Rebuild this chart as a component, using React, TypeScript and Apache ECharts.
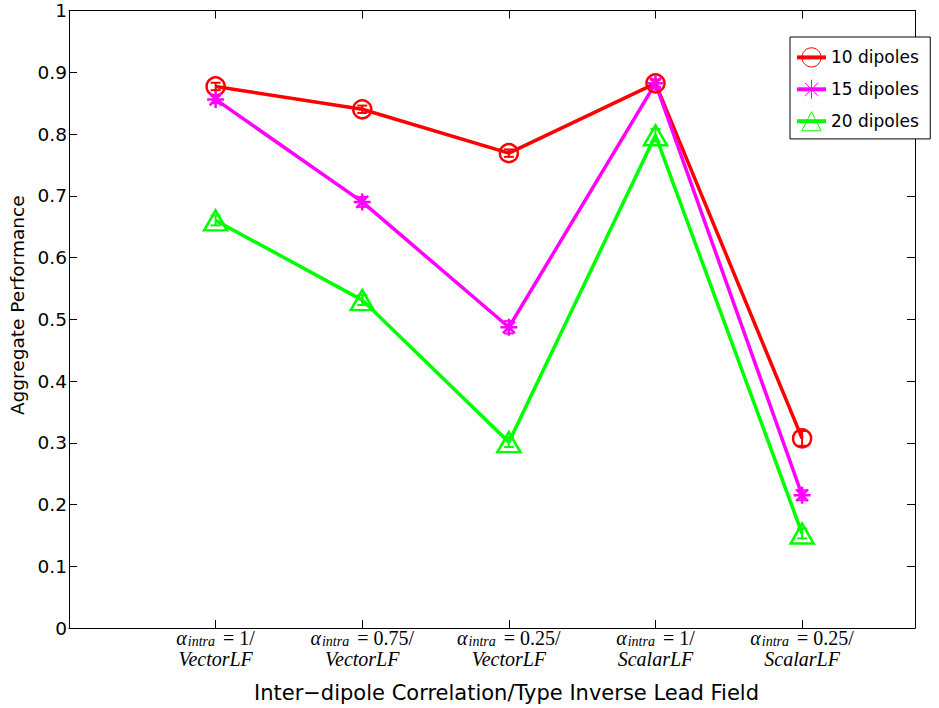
import React, { useEffect, useRef } from "react";
import * as echarts from "echarts";

// Condition labels along the x axis: α_intra value and lead-field type
const alphaIntra = ["1", "0.75", "0.25", "1", "0.25"];
const leadFieldType = ["VectorLF", "VectorLF", "VectorLF", "ScalarLF", "ScalarLF"];

const seriesNames = ["10 dipoles", "15 dipoles", "20 dipoles"];
const seriesColors = ["#ff0000", "#ff00ff", "#00ff00"];

// Aggregate performance per condition
const perf10 = [0.877, 0.84, 0.769, 0.882, 0.307];
const perf15 = [0.856, 0.69, 0.487, 0.882, 0.215];
const perf20 = [0.66, 0.531, 0.301, 0.798, 0.153];

// Half-widths of the error bars
const err10 = [0.006, 0.006, 0.006, 0.006, 0.012];
const err15 = [0.006, 0.008, 0.01, 0.006, 0.008];
const err20 = [0.008, 0.008, 0.008, 0.01, 0.008];

const yTicks = [0, 0.1, 0.2, 0.3, 0.4, 0.5, 0.6, 0.7, 0.8, 0.9, 1];

const ASTERISK = "path://M0,-10L0,10M-10,0L10,0M-7,-7L7,7M-7,7L7,-7";

export default function App() {
  const ref = useRef<HTMLDivElement>(null);

  useEffect(() => {
    if (!ref.current) return;
    const chart = echarts.init(ref.current, undefined, { renderer: "svg" });

    const perf = [perf10, perf15, perf20];
    const errs = [err10, err15, err20];
    const symbols = ["circle", ASTERISK, "triangle"];
    const symbolSizes: any[] = [18, 17, [23, 20]];

    const lineSeries = seriesNames.map((name, s) => ({
      name,
      type: "line",
      data: perf[s].map((v, i) => [i + 1, v]),
      symbol: symbols[s],
      symbolSize: symbolSizes[s],
      showAllSymbol: true,
      lineStyle: { color: seriesColors[s], width: 3.5 },
      itemStyle: {
        color: "rgba(255,255,255,0)",
        borderColor: seriesColors[s],
        borderWidth: 2.5,
      },
      emphasis: { disabled: true },
      z: 3,
    }));

    const errorSeries = seriesNames.map((name, s) => ({
      name: name + " error",
      type: "custom",
      data: perf[s].map((v, i) => [i + 1, v, errs[s][i]]),
      z: 4,
      renderItem: (params: any, api: any) => {
        const x = api.value(0);
        const y = api.value(1);
        const e = api.value(2);
        const top = api.coord([x, y + e]);
        const bot = api.coord([x, y - e]);
        const cap = 5;
        const style = { stroke: seriesColors[s], lineWidth: 2 };
        return {
          type: "group",
          children: [
            { type: "line", shape: { x1: top[0], y1: top[1], x2: bot[0], y2: bot[1] }, style },
            { type: "line", shape: { x1: top[0] - cap, y1: top[1], x2: top[0] + cap, y2: top[1] }, style },
            { type: "line", shape: { x1: bot[0] - cap, y1: bot[1], x2: bot[0] + cap, y2: bot[1] }, style },
          ],
        };
      },
    }));

    const sans = "DejaVu Sans, Verdana, sans-serif";
    const tickFont = { fontFamily: sans, fontSize: 18.5, color: "#000" };
    const legendFont = { fontFamily: sans, fontSize: 17, color: "#000" };
    const serif = "Liberation Serif, Times New Roman, serif";
    const mathItalic = { fontFamily: serif, fontStyle: "italic", fontWeight: "normal", color: "#000" };
    const insideTick = { show: true, inside: true, length: 8, lineStyle: { color: "#000", width: 1 } };
    const blackLine = { show: true, onZero: false, lineStyle: { color: "#000", width: 1 } };

    chart.setOption({
      animation: false,
      backgroundColor: "#fff",
      grid: { left: 69, right: 24, top: 10.5, bottom: 80, outerBoundsMode: "none" },
      legend: {
        data: seriesNames,
        orient: "vertical",
        left: 790,
        top: 37,
        itemWidth: 29,
        itemHeight: 24,
        itemGap: 11.7,
        padding: [10.3, 11.5, 7.6, 5],
        borderColor: "#000",
        borderWidth: 1,
        backgroundColor: "#fff",
        lineStyle: { width: 4 },
        itemStyle: { borderWidth: 1 },
        textStyle: { ...legendFont },
        selectedMode: false,
      },
      xAxis: [
        {
          type: "value",
          min: 0,
          max: 5.77,
          interval: 1,
          name: "Inter\u2212dipole Correlation/Type Inverse Lead Field",
          nameLocation: "middle",
          nameGap: 54,
          nameTextStyle: { fontFamily: sans, fontSize: 21, color: "#000", padding: [0, 0, 0, 29] },
          axisLine: blackLine,
          axisTick: insideTick,
          splitLine: { show: false },
          axisLabel: {
            margin: -1,
            fontSize: 19,
            lineHeight: 21,
            formatter: (v: number) => {
              const i = Math.round(v) - 1;
              if (Math.abs(v - (i + 1)) > 1e-6 || i < 0 || i >= alphaIntra.length) return "";
              return `{a|α}{s|intra}{n| = ${alphaIntra[i]}/}\n{l|${leadFieldType[i]}}`;
            },
            rich: {
              a: { ...mathItalic, fontSize: 20, lineHeight: 21 },
              s: { ...mathItalic, fontSize: 14, lineHeight: 13, verticalAlign: "bottom", padding: [0, 0, 0, 1] },
              n: { fontFamily: serif, fontSize: 20, lineHeight: 21, color: "#000", padding: [0, 0, 0, 3] },
              l: { ...mathItalic, fontSize: 20, lineHeight: 21, letterSpacing: 1 },
            },
          },
        },
        {
          type: "value",
          position: "top",
          min: 0,
          max: 5.77,
          interval: 1,
          axisLine: blackLine,
          axisTick: insideTick,
          axisLabel: { show: false },
          splitLine: { show: false },
        },
      ],
      yAxis: [
        {
          type: "value",
          min: yTicks[0],
          max: yTicks[yTicks.length - 1],
          interval: 0.1,
          name: "Aggregate Performance",
          nameLocation: "middle",
          nameGap: 37,
          nameTextStyle: { fontFamily: sans, fontSize: 18.5, color: "#000", padding: [0, 0, 0, 28] },
          axisLine: blackLine,
          axisTick: insideTick,
          splitLine: { show: false },
          axisLabel: { ...tickFont, margin: 2 },
        },
        {
          type: "value",
          position: "right",
          min: yTicks[0],
          max: yTicks[yTicks.length - 1],
          interval: 0.1,
          axisLine: blackLine,
          axisTick: insideTick,
          axisLabel: { show: false },
          splitLine: { show: false },
        },
      ],
      series: [...lineSeries, ...errorSeries],
    });

    return () => chart.dispose();
  }, []);

  return (
    <div
      ref={ref}
      style={{ position: "fixed", left: 0, top: 0, width: 939, height: 708 }}
    />
  );
}
